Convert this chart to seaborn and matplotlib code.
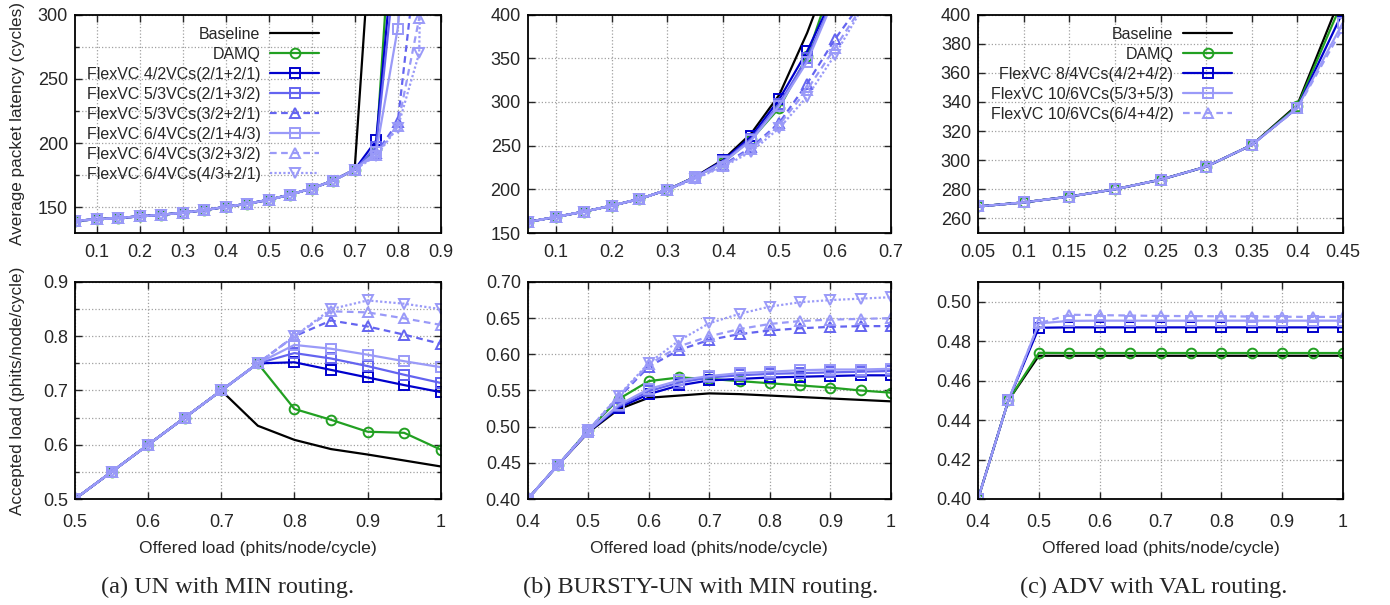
import seaborn as sns
import matplotlib.pyplot as plt
from matplotlib.ticker import FixedLocator, FormatStrFormatter

sns.set_style('ticks')
plt.rcParams['font.family'] = ['Liberation Sans', 'DejaVu Sans']
SANS = ['Liberation Sans', 'DejaVu Sans']
SERIF = ['Liberation Serif', 'DejaVu Serif']

# ---------------- data ----------------
# offered load for the latency plots (top row)
load_un_lat = [0.05, 0.1, 0.15, 0.2, 0.25, 0.3, 0.35, 0.4, 0.45, 0.5, 0.55, 0.6, 0.65, 0.7, 0.75, 0.8, 0.85, 0.9]
load_bursty_lat = [0.05, 0.1, 0.15, 0.2, 0.25, 0.3, 0.35, 0.4, 0.45, 0.5, 0.55, 0.6, 0.65]
load_adv_lat = [0.05, 0.1, 0.15, 0.2, 0.25, 0.3, 0.35, 0.4, 0.45]
# offered load for the throughput plots (bottom row)
load_un_acc = [0.5, 0.55, 0.6, 0.65, 0.7, 0.75, 0.8, 0.85, 0.9, 0.95, 1.0]
load_bursty_acc = [0.4, 0.45, 0.5, 0.55, 0.6, 0.65, 0.7, 0.75, 0.8, 0.85, 0.9, 0.95, 1.0]
load_adv_acc = [0.4, 0.45, 0.5, 0.55, 0.6, 0.65, 0.7, 0.75, 0.8, 0.85, 0.9, 0.95, 1.0]

names_min = ['Baseline', 'DAMQ', 'FlexVC 4/2VCs(2/1+2/1)', 'FlexVC 5/3VCs(2/1+3/2)',
             'FlexVC 5/3VCs(3/2+2/1)', 'FlexVC 6/4VCs(2/1+4/3)', 'FlexVC 6/4VCs(3/2+3/2)',
             'FlexVC 6/4VCs(4/3+2/1)']
names_val = ['Baseline', 'DAMQ', 'FlexVC 8/4VCs(4/2+4/2)', 'FlexVC 10/6VCs(5/3+5/3)',
             'FlexVC 10/6VCs(6/4+4/2)']

lat_un = {
    'Baseline': [139.5, 140.6, 141.7, 142.9, 144.2, 145.7, 147.8, 150.3, 152.7, 155.8, 159.9, 164.6, 170.8, 179.5, 425],
    'DAMQ': [139.5, 140.6, 141.7, 142.9, 144.2, 145.7, 147.8, 150.3, 152.7, 155.8, 159.9, 164.6, 170.8, 179.3, 195, 449],
    'FlexVC 4/2VCs(2/1+2/1)': [139.5, 140.6, 141.7, 142.9, 144.2, 145.7, 147.8, 150.3, 152.7, 155.8, 159.9, 164.6, 170.8, 179.3, 202, 385],
    'FlexVC 5/3VCs(2/1+3/2)': [139.5, 140.6, 141.7, 142.9, 144.2, 145.7, 147.8, 150.3, 152.7, 155.8, 159.9, 164.6, 170.8, 179.3, 197, 357],
    'FlexVC 5/3VCs(3/2+2/1)': [139.5, 140.6, 141.7, 142.9, 144.2, 145.7, 147.8, 150.3, 152.7, 155.8, 159.9, 164.6, 170.8, 179.3, 192, 216, 363],
    'FlexVC 6/4VCs(2/1+4/3)': [139.5, 140.6, 141.7, 142.9, 144.2, 145.7, 147.8, 150.3, 152.7, 155.8, 159.9, 164.6, 170.8, 179.3, 193, 289, 470],
    'FlexVC 6/4VCs(3/2+3/2)': [139.5, 140.6, 141.7, 142.9, 144.2, 145.7, 147.8, 150.3, 152.7, 155.8, 159.9, 164.6, 170.8, 179.3, 191, 213, 297, 900],
    'FlexVC 6/4VCs(4/3+2/1)': [139.5, 140.6, 141.7, 142.9, 144.2, 145.7, 147.8, 150.3, 152.7, 155.8, 159.9, 164.6, 170.8, 179.3, 190, 212, 270, 1300],
}
lat_bursty = {
    'Baseline': [162.6, 168.3, 174.4, 181.2, 188.9, 199.5, 214.5, 234, 264, 308, 379, 463],
    'DAMQ': [162.6, 168.3, 174.4, 181.2, 188.9, 199.5, 214.0, 231, 257, 293, 352, 446],
    'FlexVC 4/2VCs(2/1+2/1)': [162.6, 168.3, 174.4, 181.2, 188.9, 199.5, 214.0, 233, 260.5, 303, 358, 426],
    'FlexVC 5/3VCs(2/1+3/2)': [162.6, 168.3, 174.4, 181.2, 188.9, 199.5, 214.0, 232, 258, 298, 350, 423],
    'FlexVC 5/3VCs(3/2+2/1)': [162.6, 168.3, 174.4, 181.2, 188.9, 199.5, 213.0, 228, 248, 276, 321, 372, 416],
    'FlexVC 6/4VCs(2/1+4/3)': [162.6, 168.3, 174.4, 181.2, 188.9, 199.5, 214.0, 231, 256, 295.6, 346, 421],
    'FlexVC 6/4VCs(3/2+3/2)': [162.6, 168.3, 174.4, 181.2, 188.9, 199.5, 212.5, 227, 246, 274, 314, 362, 411],
    'FlexVC 6/4VCs(4/3+2/1)': [162.6, 168.3, 174.4, 181.2, 188.9, 199.5, 212.0, 226, 243, 270, 306, 354, 409],
}
lat_adv = {
    'Baseline': [268.2, 271.0, 275.0, 280.0, 286.6, 295.5, 310.4, 338, 416],
    'DAMQ': [268.2, 271.0, 275.0, 280.0, 286.6, 295.5, 310.4, 337, 410],
    'FlexVC 8/4VCs(4/2+4/2)': [268.2, 271.0, 275.0, 280.0, 286.6, 295.5, 310.4, 336, 402],
    'FlexVC 10/6VCs(5/3+5/3)': [268.2, 271.0, 275.0, 280.0, 286.6, 295.5, 310.4, 336, 394.5],
    'FlexVC 10/6VCs(6/4+4/2)': [268.2, 271.0, 275.0, 280.0, 286.6, 295.5, 310.4, 335.5, 391],
}

acc_un = {
    'Baseline': [0.5, 0.55, 0.6, 0.65, 0.7, 0.635, 0.609, 0.592, 0.582, 0.571, 0.560],
    'DAMQ': [0.5, 0.55, 0.6, 0.65, 0.7, 0.75, 0.666, 0.646, 0.624, 0.622, 0.591],
    'FlexVC 4/2VCs(2/1+2/1)': [0.5, 0.55, 0.6, 0.65, 0.7, 0.75, 0.752, 0.738, 0.724, 0.710, 0.697],
    'FlexVC 5/3VCs(2/1+3/2)': [0.5, 0.55, 0.6, 0.65, 0.7, 0.75, 0.769, 0.759, 0.745, 0.729, 0.714],
    'FlexVC 5/3VCs(3/2+2/1)': [0.5, 0.55, 0.6, 0.65, 0.7, 0.75, 0.800, 0.829, 0.818, 0.803, 0.786],
    'FlexVC 6/4VCs(2/1+4/3)': [0.5, 0.55, 0.6, 0.65, 0.7, 0.75, 0.784, 0.777, 0.766, 0.754, 0.743],
    'FlexVC 6/4VCs(3/2+3/2)': [0.5, 0.55, 0.6, 0.65, 0.7, 0.75, 0.800, 0.846, 0.844, 0.833, 0.821],
    'FlexVC 6/4VCs(4/3+2/1)': [0.5, 0.55, 0.6, 0.65, 0.7, 0.75, 0.800, 0.850, 0.866, 0.860, 0.850],
}
acc_bursty = {
    'Baseline': [0.4, 0.447, 0.492, 0.524, 0.540, 0.543, 0.546, 0.545, 0.543, 0.541, 0.539, 0.537, 0.535],
    'DAMQ': [0.4, 0.447, 0.495, 0.538, 0.563, 0.568, 0.566, 0.563, 0.560, 0.557, 0.554, 0.550, 0.547],
    'FlexVC 4/2VCs(2/1+2/1)': [0.4, 0.447, 0.493, 0.526, 0.545, 0.557, 0.564, 0.566, 0.568, 0.569, 0.570, 0.571, 0.571],
    'FlexVC 5/3VCs(2/1+3/2)': [0.4, 0.447, 0.493, 0.528, 0.549, 0.561, 0.568, 0.571, 0.573, 0.574, 0.575, 0.576, 0.577],
    'FlexVC 5/3VCs(3/2+2/1)': [0.4, 0.447, 0.495, 0.540, 0.583, 0.606, 0.620, 0.628, 0.633, 0.636, 0.638, 0.639, 0.639],
    'FlexVC 6/4VCs(2/1+4/3)': [0.4, 0.447, 0.493, 0.530, 0.552, 0.564, 0.570, 0.574, 0.576, 0.578, 0.579, 0.579, 0.580],
    'FlexVC 6/4VCs(3/2+3/2)': [0.4, 0.447, 0.495, 0.542, 0.586, 0.611, 0.625, 0.635, 0.642, 0.646, 0.648, 0.649, 0.650],
    'FlexVC 6/4VCs(4/3+2/1)': [0.4, 0.447, 0.495, 0.543, 0.588, 0.619, 0.643, 0.656, 0.666, 0.672, 0.675, 0.677, 0.679],
}
acc_adv = {
    'Baseline': [0.4, 0.45, 0.4726, 0.4726, 0.4726, 0.4726, 0.4726, 0.4726, 0.4726, 0.4726, 0.4726, 0.4726, 0.4726],
    'DAMQ': [0.4, 0.45, 0.4741, 0.4740, 0.4740, 0.4740, 0.4740, 0.4740, 0.4740, 0.4740, 0.4740, 0.4740, 0.4740],
    'FlexVC 8/4VCs(4/2+4/2)': [0.4, 0.45, 0.4868, 0.4870, 0.4870, 0.4870, 0.4870, 0.4870, 0.4870, 0.4870, 0.4870, 0.4870, 0.4870],
    'FlexVC 10/6VCs(5/3+5/3)': [0.4, 0.45, 0.4890, 0.4903, 0.4904, 0.4904, 0.4904, 0.4904, 0.4904, 0.4904, 0.4904, 0.4904, 0.4904],
    'FlexVC 10/6VCs(6/4+4/2)': [0.4, 0.45, 0.4890, 0.4934, 0.4932, 0.4930, 0.4928, 0.4927, 0.4926, 0.4925, 0.4924, 0.4923, 0.4923],
}

captions = ['(a) UN with MIN routing.', '(b) BURSTY-UN with MIN routing.', '(c) ADV with VAL routing.']

# ---------------- styles ----------------
DARK = '#0000cc'
MID = '#6464f0'
LIGHT = '#9a9af8'
GREEN = '#22a022'
STYLE = {
    'Baseline': ('black', '-', None),
    'DAMQ': (GREEN, '-', 'o'),
    'FlexVC 4/2VCs(2/1+2/1)': (DARK, '-', 's'),
    'FlexVC 5/3VCs(2/1+3/2)': (MID, '-', 's'),
    'FlexVC 5/3VCs(3/2+2/1)': (MID, (0, (3, 2)), '^'),
    'FlexVC 6/4VCs(2/1+4/3)': (LIGHT, '-', 's'),
    'FlexVC 6/4VCs(3/2+3/2)': (LIGHT, (0, (3, 2)), '^'),
    'FlexVC 6/4VCs(4/3+2/1)': (LIGHT, (0, (1, 1)), 'v'),
    'FlexVC 8/4VCs(4/2+4/2)': (DARK, '-', 's'),
    'FlexVC 10/6VCs(5/3+5/3)': (LIGHT, '-', 's'),
    'FlexVC 10/6VCs(6/4+4/2)': (LIGHT, (0, (3, 2)), '^'),
}


def draw(ax, x, series, names):
    for name in names:
        color, ls, marker = STYLE[name]
        y = series[name]
        kw = dict(color=color, linestyle=ls, lw=1.6, label=name)
        if marker:
            kw.update(marker=marker, markersize=7, markeredgewidth=1.4,
                      markeredgecolor=color, markerfacecolor='none')
        sns.lineplot(x=x[:len(y)], y=y, ax=ax, legend=False, sort=False, **kw)


def style_axes(ax, xlim, ylim, xticks, yticks, yfmt, xpad, yminor=None):
    ax.set_xlim(*xlim)
    ax.set_ylim(*ylim)
    ax.xaxis.set_major_locator(FixedLocator(xticks))
    ax.yaxis.set_major_locator(FixedLocator(yticks))
    ax.xaxis.set_major_formatter(FormatStrFormatter('%g'))
    ax.yaxis.set_major_formatter(FormatStrFormatter(yfmt))
    if yminor is not None:
        ax.yaxis.set_minor_locator(FixedLocator(yminor))
        ax.grid(True, which='minor', axis='y', color='#a0a0a0', ls=':', lw=0.9)
    ax.grid(True, which='major', color='#a0a0a0', ls=':', lw=0.9)
    ax.tick_params(which='both', direction='in', top=True, right=True, width=1)
    ax.tick_params(which='major', length=5)
    ax.tick_params(which='minor', length=3)
    ax.tick_params(axis='y', labelsize=13, pad=5)
    ax.tick_params(axis='x', labelsize=13, pad=xpad)
    for s in ax.spines.values():
        s.set_linewidth(1.3)
        s.set_color('black')
    ax.set_xlabel('')
    ax.set_ylabel('')


fig = plt.figure(figsize=(13.9, 6.05), dpi=100)
W, H = 1390, 605
lefts = [75, 527.7, 978]
widths = [365.7, 363.3, 365]
caption_x = [228, 701, 1154]


def make_ax(i, top, bottom):
    return fig.add_axes([lefts[i] / W, 1 - bottom / H, widths[i] / W, (bottom - top) / H])


top_axes = [make_ax(i, 14.5, 233) for i in range(3)]
bot_axes = [make_ax(i, 282, 499) for i in range(3)]

# top row: latency
draw(top_axes[0], load_un_lat, lat_un, names_min)
style_axes(top_axes[0], (0.05, 0.9), (130, 300), [0.1, 0.2, 0.3, 0.4, 0.5, 0.6, 0.7, 0.8, 0.9],
           [150, 200, 250, 300], '%g', 8, yminor=[175, 225, 275])
draw(top_axes[1], load_bursty_lat, lat_bursty, names_min)
style_axes(top_axes[1], (0.05, 0.7), (150, 400), [0.1, 0.2, 0.3, 0.4, 0.5, 0.6, 0.7],
           [150, 200, 250, 300, 350, 400], '%g', 8)
draw(top_axes[2], load_adv_lat, lat_adv, names_val)
style_axes(top_axes[2], (0.05, 0.45), (250, 400), [0.05, 0.1, 0.15, 0.2, 0.25, 0.3, 0.35, 0.4, 0.45],
           [260, 280, 300, 320, 340, 360, 380, 400], '%g', 8)

# bottom row: accepted load
draw(bot_axes[0], load_un_acc, acc_un, names_min)
style_axes(bot_axes[0], (0.5, 1.0), (0.5, 0.9), [0.5, 0.6, 0.7, 0.8, 0.9, 1.0],
           [0.5, 0.6, 0.7, 0.8, 0.9], '%g', 11, yminor=[0.55, 0.65, 0.75, 0.85])
draw(bot_axes[1], load_bursty_acc, acc_bursty, names_min)
style_axes(bot_axes[1], (0.4, 1.0), (0.4, 0.7), [0.4, 0.5, 0.6, 0.7, 0.8, 0.9, 1.0],
           [0.4, 0.45, 0.5, 0.55, 0.6, 0.65, 0.7], '%.2f', 11)
draw(bot_axes[2], load_adv_acc, acc_adv, names_val)
style_axes(bot_axes[2], (0.4, 1.0), (0.4, 0.51), [0.4, 0.5, 0.6, 0.7, 0.8, 0.9, 1.0],
           [0.4, 0.42, 0.44, 0.46, 0.48, 0.5], '%.2f', 11)

# legends (gnuplot style: text right aligned, sample on the right)
leg_kw = dict(loc='upper right', frameon=False, markerfirst=False, fontsize=11.5,
              handlelength=3.06, handletextpad=0.62, labelspacing=0.31,
              borderpad=0, borderaxespad=0)
top_axes[0].legend(bbox_to_anchor=(0.668, 0.943), **leg_kw)
top_axes[2].legend(bbox_to_anchor=(0.696, 0.943), **leg_kw)

# axis labels
top_axes[0].set_ylabel('Average packet latency (cycles)', fontsize=12.3)
top_axes[0].yaxis.set_label_coords(-0.137, 0.5)
bot_axes[0].set_ylabel('Accepted load (phits/node/cycle)', fontsize=12.3)
bot_axes[0].yaxis.set_label_coords(-0.137, 0.5)

for i, ax in enumerate(bot_axes):
    cx = (lefts[i] + widths[i] / 2) / W
    fig.text(cx, 1 - 549 / H, 'Offered load (phits/node/cycle)', ha='center', va='center',
             family=SANS, fontsize=12.6)
    fig.text(caption_x[i] / W, 1 - 587 / H, captions[i], ha='center', va='center',
             family=SERIF, fontsize=17.5)

fig.savefig('out.png', dpi=100)
